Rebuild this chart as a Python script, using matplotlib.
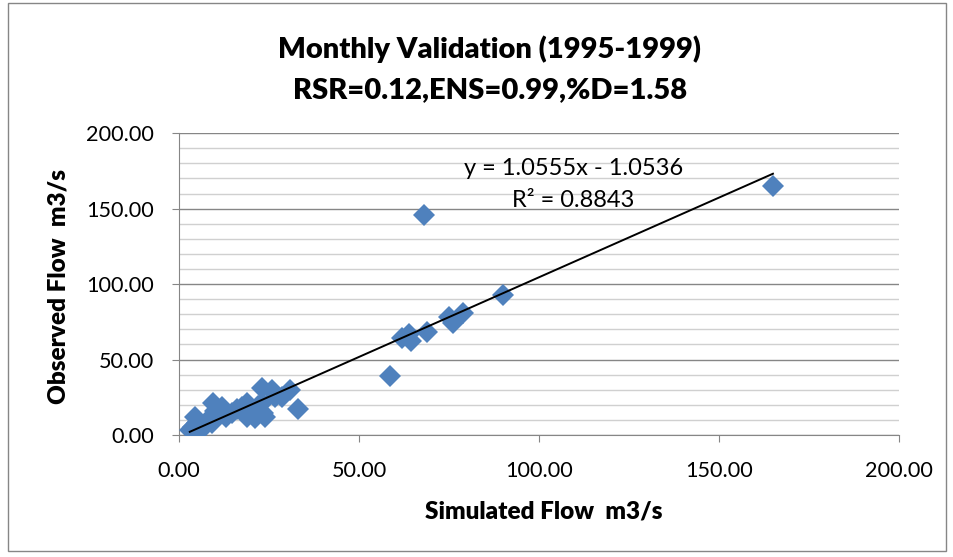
# Monthly validation scatter: simulated vs observed flow
import numpy as np
import matplotlib.pyplot as plt
from matplotlib.ticker import MultipleLocator, FormatStrFormatter

plt.rcParams['font.family'] = ['Lato', 'DejaVu Sans']

# data (m3/s)
simulated = [3, 4, 4.4, 5, 6, 7, 8, 9.2, 9.4, 10, 11, 12, 13, 14.7, 16, 17.5, 19, 19, 20,
             21, 22, 23, 23, 23.3, 24, 25.8, 26.6, 28.6, 30.8, 33,
             58.5, 62, 64, 64.5, 69, 75, 76, 79, 90, 68, 165]
observed = [3.3, 5, 12, 8, 3, 6.6, 10, 8, 21, 16, 14, 18.5, 12, 14.5, 17, 18.5, 21, 12, 16,
            11, 19, 31, 21, 14.5, 12, 30, 25, 25, 30, 17.5,
            39, 64, 67, 62, 68, 78, 74, 81, 93, 146, 165]

# trendline reported on the chart
slope = 1.0555
intercept = -1.0536
r2 = 0.8843

fig = plt.figure(figsize=(9.54, 5.57), dpi=100)
ax = fig.add_axes([0.1876, 0.219, 0.7547, 0.542])

ax.plot(simulated, observed, 'D', color='#4F81BD', markersize=11, markeredgewidth=0, zorder=3)

xs = np.array([min(simulated), max(simulated)])
ax.plot(xs, slope * xs + intercept, color='black', lw=1.4, zorder=4)

ax.set_xlim(0, 200)
ax.set_ylim(0, 200)
ax.xaxis.set_major_locator(MultipleLocator(50))
ax.yaxis.set_major_locator(MultipleLocator(50))
ax.yaxis.set_minor_locator(MultipleLocator(10))
ax.xaxis.set_major_formatter(FormatStrFormatter('%.2f'))
ax.yaxis.set_major_formatter(FormatStrFormatter('%.2f'))

ax.grid(axis='y', which='major', color='#868686', lw=1.0)
ax.grid(axis='y', which='minor', color='#D0D0D0', lw=1.0)
ax.set_axisbelow(True)

for s in ['top', 'right']:
    ax.spines[s].set_visible(False)
for s in ['left', 'bottom']:
    ax.spines[s].set_color('#868686')
ax.tick_params(which='major', length=5, color='#868686', labelsize=15.6)
ax.tick_params(axis='y', pad=13)
ax.tick_params(axis='x', pad=14)
ax.tick_params(which='minor', length=0)

# axis titles
fig.text(0.5697, 0.0808, 'Simulated Flow  m3/s', ha='center', va='center',
         fontsize=17.5, fontweight='heavy')
fig.text(0.0608, 0.4865, 'Observed Flow  m3/s', ha='center', va='center', rotation=90,
         fontsize=17.5, fontweight='heavy')

# chart title
fig.text(0.5136, 0.8959, 'Monthly Validation (1995-1999)', ha='center', va='baseline',
         fontsize=21, fontweight='heavy')
fig.text(0.5136, 0.8241, 'RSR=0.12,ENS=0.99,%D=1.58', ha='center', va='baseline',
         fontsize=21, fontweight='heavy')

ax.text(109.6, 172.2, 'y = 1.0555x - 1.0536', ha='center', va='baseline', fontsize=17)
ax.text(109.5, 151, 'R² = %.4f' % r2, ha='center', va='baseline', fontsize=17)

# chart area border
fig.patches.append(plt.Rectangle((0.008, 0.01), 0.984, 0.985, transform=fig.transFigure,
                                 fill=False, edgecolor='#868686', lw=1.0))

fig.savefig('out.png', dpi=100)
